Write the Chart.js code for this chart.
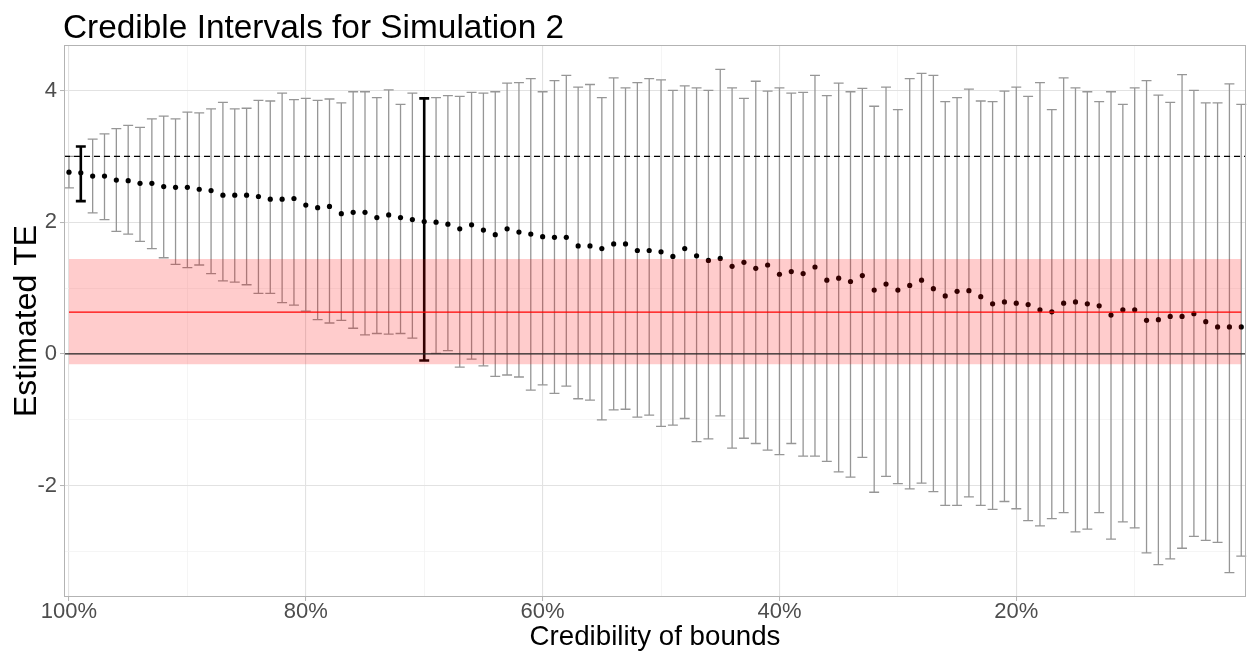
<!DOCTYPE html>
<html>
<head>
<meta charset="utf-8">
<script src="https://cdn.jsdelivr.net/npm/chart.js@4.4.1/dist/chart.umd.min.js"></script>
<style>
    html, body { margin: 0; padding: 0; background: #fff; }
    #wrap { width: 1250px; height: 654px; }
</style>
</head>
<body>
<div id="wrap"><canvas id="myChart" width="1250" height="654"></canvas></div>
<script>
// credibility of bounds (%), one interval per value
const credibility = [100, 99, 98, 97, 96, 95, 94, 93, 92, 91, 90, 89, 88, 87, 86, 85, 84, 83, 82, 81,
    80, 79, 78, 77, 76, 75, 74, 73, 72, 71, 70, 69, 68, 67, 66, 65, 64, 63, 62, 61,
    60, 59, 58, 57, 56, 55, 54, 53, 52, 51, 50, 49, 48, 47, 46, 45, 44, 43, 42, 41,
    40, 39, 38, 37, 36, 35, 34, 33, 32, 31, 30, 29, 28, 27, 26, 25, 24, 23, 22, 21,
    20, 19, 18, 17, 16, 15, 14, 13, 12, 11, 10, 9, 8, 7, 6, 5, 4, 3, 2, 1];

const estimate = [2.76, 2.75, 2.70, 2.70, 2.64, 2.63, 2.59, 2.59, 2.54, 2.53, 2.53, 2.50, 2.48, 2.41, 2.41, 2.41, 2.39, 2.35, 2.35, 2.36,
    2.26, 2.22, 2.24, 2.13, 2.15, 2.15, 2.07, 2.11, 2.07, 2.04, 2.01, 2.00, 1.97, 1.90, 1.96, 1.88, 1.81, 1.90, 1.85, 1.82,
    1.78, 1.77, 1.77, 1.64, 1.64, 1.60, 1.67, 1.67, 1.57, 1.57, 1.55, 1.48, 1.60, 1.49, 1.42, 1.45, 1.33, 1.39, 1.30, 1.35,
    1.21, 1.25, 1.22, 1.32, 1.12, 1.15, 1.10, 1.19, 0.97, 1.06, 0.97, 1.04, 1.12, 0.99, 0.88, 0.95, 0.96, 0.87, 0.76, 0.79,
    0.77, 0.75, 0.67, 0.64, 0.77, 0.79, 0.76, 0.73, 0.59, 0.67, 0.67, 0.51, 0.52, 0.57, 0.57, 0.61, 0.49, 0.41, 0.41, 0.41];

const upper = [3.00, 3.15, 3.26, 3.34, 3.42, 3.47, 3.44, 3.57, 3.61, 3.57, 3.67, 3.66, 3.72, 3.82, 3.72, 3.73, 3.85, 3.84, 3.96, 3.86,
    3.88, 3.85, 3.87, 3.81, 3.98, 3.98, 3.89, 4.01, 3.79, 3.96, 3.88, 3.89, 3.92, 3.91, 3.97, 3.96, 3.98, 4.11, 4.12, 4.18,
    3.98, 4.15, 4.23, 4.05, 4.09, 3.89, 4.19, 4.04, 4.12, 4.18, 4.16, 4.00, 4.07, 4.04, 4.00, 4.32, 4.04, 3.88, 4.14, 3.99,
    4.04, 3.96, 3.97, 4.23, 3.92, 4.11, 3.98, 4.03, 3.76, 4.05, 3.71, 4.18, 4.26, 4.23, 3.83, 3.89, 4.02, 3.84, 3.83, 3.99,
    4.05, 3.91, 4.12, 3.71, 4.19, 4.04, 3.98, 3.83, 3.98, 3.79, 4.04, 4.15, 3.93, 3.82, 4.24, 4.00, 3.81, 3.81, 4.10, 3.79];

const lower = [2.52, 2.32, 2.14, 2.04, 1.86, 1.82, 1.71, 1.60, 1.46, 1.36, 1.31, 1.35, 1.22, 1.11, 1.09, 1.05, 0.92, 0.92, 0.78, 0.74,
    0.65, 0.52, 0.47, 0.51, 0.39, 0.29, 0.31, 0.30, 0.31, 0.24, -0.10, 0.01, 0.05, -0.20, -0.08, -0.18, -0.34, -0.32, -0.35, -0.55,
    -0.47, -0.60, -0.49, -0.68, -0.70, -1.00, -0.85, -0.84, -0.96, -0.93, -1.10, -1.08, -0.98, -1.33, -1.29, -0.94, -1.43, -1.28, -1.36, -1.46,
    -1.53, -1.36, -1.55, -1.55, -1.63, -1.79, -1.87, -1.57, -2.10, -1.86, -1.97, -2.05, -1.96, -2.09, -2.30, -2.30, -2.17, -2.30, -2.36, -2.24,
    -2.35, -2.53, -2.61, -2.50, -2.41, -2.70, -2.66, -2.41, -2.81, -2.55, -2.64, -3.02, -3.20, -3.11, -2.95, -2.77, -2.83, -2.86, -3.32, -3.07];

// intervals drawn in bold
const highlighted = [99, 70];

// reference lines
const trueEffect = 3;
const priorMean = 0.634;
const priorLow = -0.157;
const priorHigh = 1.44;

// axes
const xLimits = [0.6, 100.42];
const yLimits = [-3.69, 4.69];
const xGrid = [100, 90, 80, 70, 60, 50, 40, 30, 20, 10];
const xLabelled = [100, 80, 60, 40, 20];
const yGrid = [4, 3, 2, 1, 0, -1, -2, -3];
const yLabelled = [4, 2, 0, -2];

const FONT = "'Liberation Sans', Arial, Helvetica, sans-serif";
const capHalf = 0.42;

// error bars with caps, drawn under the points
const errorBars = {
    id: 'errorBars',
    beforeDatasetsDraw(chart) {
        const { ctx, scales: { x, y } } = chart;
        ctx.save();
        credibility.forEach((c, i) => {
            const bold = highlighted.includes(c);
            const px = x.getPixelForValue(c);
            const left = x.getPixelForValue(c + capHalf);
            const right = x.getPixelForValue(c - capHalf);
            const top = y.getPixelForValue(upper[i]);
            const bottom = y.getPixelForValue(lower[i]);
            ctx.strokeStyle = bold ? '#000000' : '#969696';
            ctx.lineWidth = bold ? 2.6 : 1.3;
            ctx.beginPath();
            ctx.moveTo(px, top);
            ctx.lineTo(px, bottom);
            ctx.moveTo(left, top);
            ctx.lineTo(right, top);
            ctx.moveTo(left, bottom);
            ctx.lineTo(right, bottom);
            ctx.stroke();
        });
        ctx.restore();
    }
};

// panel border + plot title
const frame = {
    id: 'frame',
    afterDraw(chart) {
        const { ctx, chartArea: a } = chart;
        ctx.save();
        ctx.strokeStyle = '#b3b3b3';
        ctx.lineWidth = 1;
        ctx.strokeRect(a.left + 0.5, a.top + 0.5, a.right - a.left - 1, a.bottom - a.top - 1);
        ctx.fillStyle = '#000000';
        ctx.font = '33.4px ' + FONT;
        ctx.textAlign = 'left';
        ctx.textBaseline = 'alphabetic';
        ctx.fillText('Credible Intervals for Simulation 2', 63, 38);
        ctx.restore();
    }
};

const hline = (y, from, to) => [{ x: from, y: y }, { x: to, y: y }];
const first = credibility[0];
const last = credibility[credibility.length - 1];

const ctx = document.getElementById('myChart').getContext('2d');
const myChart = new Chart(ctx, {
    type: 'scatter',
    data: {
        datasets: [
            {
                label: 'estimate',
                data: credibility.map((c, i) => ({ x: c, y: estimate[i] })),
                pointRadius: 2.6,
                pointBackgroundColor: '#000000',
                pointBorderWidth: 0,
                order: 3
            },
            {
                type: 'line',
                label: 'prior interval',
                data: hline(priorHigh, first, last),
                fill: { value: priorLow },
                backgroundColor: 'rgba(255,0,0,0.2)',
                borderColor: 'rgba(0,0,0,0)',
                borderWidth: 0,
                pointRadius: 0,
                order: 2
            },
            {
                type: 'line',
                label: 'zero',
                data: hline(0, xLimits[1], xLimits[0]),
                borderColor: '#262626',
                borderWidth: 1.3,
                pointRadius: 0,
                order: 1
            },
            {
                type: 'line',
                label: 'prior mean',
                data: hline(priorMean, first, last),
                borderColor: '#ff0000',
                borderWidth: 1.3,
                pointRadius: 0,
                order: 1
            },
            {
                type: 'line',
                label: 'true effect',
                data: hline(trueEffect, xLimits[1], xLimits[0]),
                borderColor: '#000000',
                borderWidth: 1.2,
                borderDash: [6, 4],
                pointRadius: 0,
                order: 1
            }
        ]
    },
    options: {
        responsive: false,
        animation: false,
        devicePixelRatio: 1,
        layout: { padding: { top: 45, right: 2, left: 0, bottom: 0 } },
        plugins: {
            legend: { display: false },
            tooltip: { enabled: false },
            title: { display: false }
        },
        scales: {
            x: {
                type: 'linear',
                reverse: true,
                min: xLimits[0],
                max: xLimits[1],
                afterBuildTicks: (scale) => { scale.ticks = xGrid.map(v => ({ value: v })); },
                afterFit: (scale) => { scale.height = 57; },
                border: { display: false },
                grid: {
                    color: (c) => c.tick && xLabelled.includes(c.tick.value) ? '#e2e2e2' : '#f1f1f1',
                    lineWidth: (c) => c.tick && xLabelled.includes(c.tick.value) ? 1.1 : 0.7,
                    tickColor: (c) => c.tick && xLabelled.includes(c.tick.value) ? '#b3b3b3' : 'rgba(0,0,0,0)',
                    tickLength: 4,
                    tickWidth: 1
                },
                ticks: {
                    autoSkip: false,
                    maxRotation: 0,
                    padding: -2,
                    color: '#4d4d4d',
                    font: { family: FONT, size: 22 },
                    callback: (v) => xLabelled.includes(v) ? v + '%' : ''
                },
                title: {
                    display: true,
                    text: 'Credibility of bounds',
                    color: '#000000',
                    font: { family: FONT, size: 27.7 },
                    padding: { top: 0, bottom: 0 }
                }
            },
            y: {
                type: 'linear',
                min: yLimits[0],
                max: yLimits[1],
                afterBuildTicks: (scale) => { scale.ticks = yGrid.map(v => ({ value: v })); },
                afterFit: (scale) => { scale.width = 64; },
                border: { display: false },
                grid: {
                    color: (c) => c.tick && yLabelled.includes(c.tick.value) ? '#e2e2e2' : '#f1f1f1',
                    lineWidth: (c) => c.tick && yLabelled.includes(c.tick.value) ? 1.1 : 0.7,
                    tickColor: (c) => c.tick && yLabelled.includes(c.tick.value) ? '#b3b3b3' : 'rgba(0,0,0,0)',
                    tickLength: 4,
                    tickWidth: 1
                },
                ticks: {
                    autoSkip: false,
                    padding: 3,
                    color: '#4d4d4d',
                    font: { family: FONT, size: 22 },
                    callback: (v) => yLabelled.includes(v) ? String(v) : ''
                },
                title: {
                    display: true,
                    text: 'Estimated TE',
                    color: '#000000',
                    font: { family: FONT, size: 32 },
                    padding: { top: 8, bottom: 0 }
                }
            }
        }
    },
    plugins: [errorBars, frame]
});
</script>
</body>
</html>
